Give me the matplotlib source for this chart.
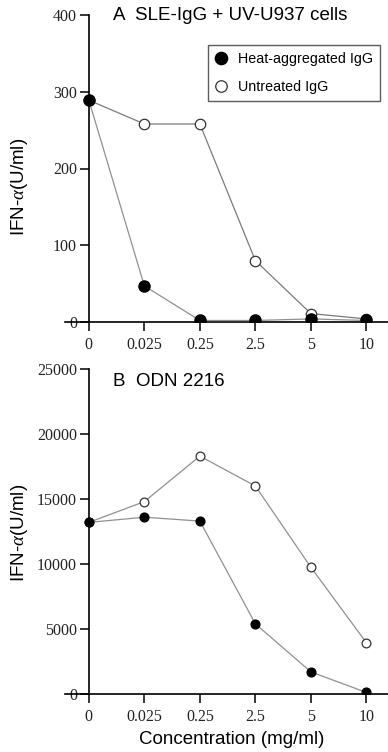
import matplotlib
matplotlib.use("Agg")
import matplotlib.pyplot as plt
import numpy as np

categories = ["0", "0.025", "0.25", "2.5", "5", "10"]
a_heat = [289, 47, 2, 2, 4, 2]
a_untreated = [289, 258, 258, 80, 11, 4]
b_heat = [13200, 13600, 13300, 5400, 1700, 120]
b_untreated = [13200, 14800, 18300, 16000, 9750, 3950]

x = np.arange(len(categories))

plt.rcParams["mathtext.fontset"] = "custom"
plt.rcParams["mathtext.it"] = "Liberation Serif:italic"
plt.rcParams["mathtext.rm"] = "Liberation Serif"

fig = plt.figure(figsize=(3.88, 7.52), dpi=100)
serif = "Liberation Serif"
sans = "Liberation Sans"
line_col = "#909090"
tick_fs = 11.5
lab_fs = 13.5

def style(ax, ymax, yticks):
    ax.set_xlim(-0.43, 5.39)
    ax.set_ylim(0, ymax)
    for s in ["top", "right"]:
        ax.spines[s].set_visible(False)
    ax.spines["left"].set_position(("data", 0))
    ax.spines["left"].set_linewidth(1.2)
    ax.spines["bottom"].set_linewidth(1.2)
    ax.set_xticks(x)
    ax.set_xticklabels(categories, fontfamily=serif, fontsize=tick_fs, color="#222222")
    ax.set_yticks(yticks)
    ax.set_yticklabels([str(v) for v in yticks], fontfamily=serif, fontsize=tick_fs,
                       color="#222222")
    ax.tick_params(direction="out", length=6.5, width=1.1, pad=2)
    ax.tick_params(axis="x", pad=4)
    ax.set_facecolor("none")

# Panel A
axA = fig.add_axes([65/388, 1-322/752, 323/388, (322-15)/752])
axA.plot(x, a_untreated, color="#7a7a7a", lw=0.9, marker="o", ms=7.5,
         mfc="white", mec="#333333", mew=0.9, label="Untreated IgG", zorder=2)
axA.plot(x, a_heat, color=line_col, lw=0.9, marker="o", ms=8,
         mfc="black", mec="black", label="Heat-aggregated IgG", zorder=3)
style(axA, 400, [0, 100, 200, 300, 400])
fig.text(113/388, 1-16/752, "A  SLE-IgG + UV-U937 cells",
         fontfamily=sans, fontsize=lab_fs, va="center", ha="left")
h, l = axA.get_legend_handles_labels()
leg = axA.legend([h[1], h[0]], [l[1], l[0]], loc="upper left",
                 bbox_to_anchor=(208/388, 1-45/752), bbox_transform=fig.transFigure,
                 frameon=True, fancybox=False, edgecolor="#333333",
                 prop={"family": sans, "size": 10.3}, handlelength=0.8,
                 handletextpad=0.8, borderpad=0.5, labelspacing=0.95,
                 borderaxespad=0, markerscale=1.1)
leg.get_frame().set_linewidth(1.0)
fig.text(20/388, 1-187/752, "IFN-$\\mathit{\\alpha}$(U/ml)", rotation=90, fontfamily=sans,
         fontsize=lab_fs, ha="center", va="center")

# Panel B
axB = fig.add_axes([65/388, 1-694/752, 323/388, (694-369)/752])
axB.plot(x, b_untreated, color=line_col, lw=0.9, marker="o", ms=6.3,
         mfc="white", mec="#333333", mew=0.9, zorder=2)
axB.plot(x, b_heat, color=line_col, lw=0.9, marker="o", ms=6.3,
         mfc="black", mec="black", zorder=3)
style(axB, 25000, [0, 5000, 10000, 15000, 20000, 25000])
fig.text(113/388, 1-381/752, "B  ODN 2216",
         fontfamily=sans, fontsize=lab_fs, va="center", ha="left")
fig.text(20/388, 1-533/752, "IFN-$\\mathit{\\alpha}$(U/ml)", rotation=90, fontfamily=sans,
         fontsize=lab_fs, ha="center", va="center")
fig.text(232/388, 1-739/752, "Concentration (mg/ml)", fontfamily=sans,
         fontsize=lab_fs, ha="center", va="center")

fig.savefig("out.png", dpi=100)
